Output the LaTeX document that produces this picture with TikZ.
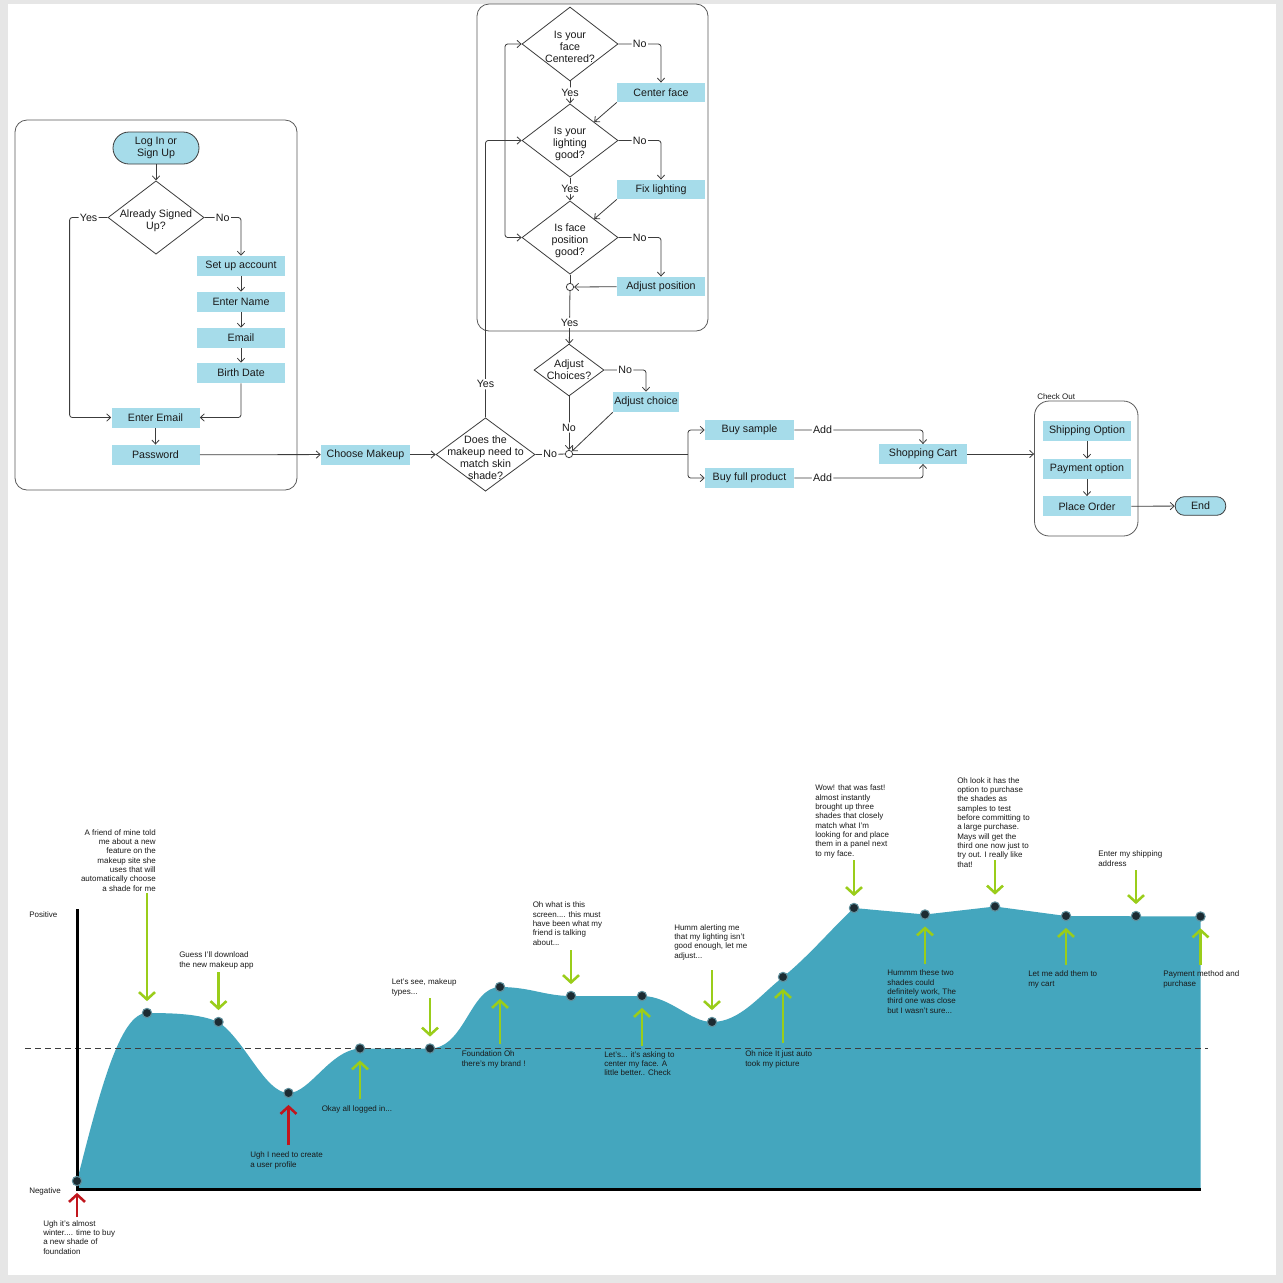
\documentclass[tikz,border=0pt]{standalone}
\usepackage{fontspec}
\setmainfont{Liberation Sans}
\usepackage{xcolor}
\usepackage{tikz}
\usetikzlibrary{shapes.geometric, arrows.meta, positioning}

\definecolor{boxblue}{HTML}{A6DCEA}
\definecolor{lineg}{HTML}{3C3C3C}
\definecolor{panelg}{HTML}{5A5A5A}
\definecolor{areateal}{HTML}{44A6BE}
\definecolor{goodgreen}{HTML}{9ACD1A}
\definecolor{badred}{HTML}{C1161D}
\definecolor{dotdark}{HTML}{1C2B32}
\definecolor{dothalo}{HTML}{5F8F9C}
\definecolor{pagegray}{HTML}{E6E6E6}
\definecolor{txt}{HTML}{1A1A1A}

\begin{document}
\begin{tikzpicture}[x=0.75pt, y=-0.75pt, node distance=27pt, on grid,
    font=\fontsize{8}{9}\selectfont, text=txt,
    >={Straight Barb[length=3pt,width=5.5pt]},
    flow/.style={draw=lineg, line width=0.6pt, rounded corners=2pt},
    box/.style={fill=boxblue, minimum width=66pt, minimum height=15pt, inner sep=0pt, align=center},
    term/.style={box, draw=lineg, line width=0.6pt, rounded corners=12pt, minimum width=64.5pt, minimum height=24pt},
    decision/.style={diamond, draw=lineg, line width=0.6pt, inner sep=0pt, minimum width=72pt, minimum height=55pt},
    dtext/.style={align=center, inner sep=0pt, yshift=-2.5pt},
    panel/.style={draw=panelg, line width=0.6pt, rounded corners=9pt, inner sep=0pt},
    lbl/.style={fill=white, inner sep=1pt},
    hub/.style={circle, draw=lineg, fill=white, line width=0.6pt, minimum size=5.5pt, inner sep=0pt},
    note/.style={font=\fontsize{6}{7}\selectfont, align=left, anchor=base west, inner sep=0pt},
    dot/.style={circle, fill=dotdark, draw=dothalo, line width=0.8pt, minimum size=7pt, inner sep=0pt},
    good/.style={draw=goodgreen, line width=1.9pt, -{Straight Barb[length=5.5pt,width=12pt]}, shorten >=5pt},
    bad/.style={good, draw=badred},
  ]
  % page
  \fill[pagegray] (0,0) rectangle (1283,1283);
  \fill[white] (8,4) rectangle (1276,1275);

  % panels
  \node[panel, minimum width=211.5pt, minimum height=277.5pt] (loginpanel) at (156,305) {};
  \node[panel, minimum width=173.25pt, minimum height=245.25pt] (camerapanel) at (592.5,167.5) {};
  \node[panel, rounded corners=11pt, minimum width=77.6pt, minimum height=101.25pt] (checkout) at (1086.25,468.5) {};
  \node[note] (checkoutlbl) at (1037,399) {Check Out};

  % sign in
  \node[term] (login) at (156,148) {Log In or\\Sign Up};
  \node[decision, label={[dtext]center:{Already Signed\\Up?}}] (signed) at (156,217.5) {};
  \node[box] (setup) at (241,266) {Set up account};
  \node[box, below=27pt of setup] (name) {Enter Name};
  \node[box, below=27pt of name] (email) {Email};
  \node[box, below=26.25pt of email] (birth) {Birth Date};
  \node[box] (enteremail) at (155.5,417.5) {Enter Email};
  \node[box, below=28pt of enteremail] (password) {Password};

  % choose makeup
  \node[box, minimum width=66.75pt] (choose) at (365.5,454.5) {Choose Makeup};
  \node[decision, minimum width=74.25pt, label={[dtext]center:{Does the\\makeup need to\\match skin\\shade?}}] (match) at (485.5,454.5) {};
  \node[hub] (hubbuy) at (569,454) {};
  \coordinate (split) at (688,454);

  % camera checks
  \node[decision, minimum height=55.5pt, label={[dtext]center:{Is your\\face\\Centered?}}] (face) at (570,44) {};
  \node[decision, label={[dtext]center:{Is your\\lighting\\good?}}] (light) at (570,140.5) {};
  \node[decision, label={[dtext]center:{Is face\\position\\good?}}] (pose) at (570,237.5) {};
  \node[box, minimum height=14.5pt] (centerface) at (661,92.5) {Center face};
  \node[box, minimum height=14.5pt] (fixlight) at (661,189.5) {Fix lighting};
  \node[box, minimum height=14.5pt] (adjpose) at (661,286.5) {Adjust position};
  \node[hub] (hubface) at (570,287) {};
  \coordinate (loopx) at (505,140.5);

  \node[decision, minimum width=52.5pt, minimum height=39pt, label={[align=center, inner sep=0pt]center:{Adjust\\Choices?}}] (choices) at (569,370) {};
  \node[box, minimum width=49.5pt] (adjchoice) at (646,402) {Adjust choice};

  % purchase
  \node[box, minimum width=66.75pt, minimum height=14.5pt] (sample) at (749.5,430) {Buy sample};
  \node[box, minimum width=66.75pt, minimum height=14.5pt] (full) at (749.5,478) {Buy full product};
  \node[box, minimum height=14.5pt] (cart) at (923,454) {Shopping Cart};
  \node[box] (ship) at (1087,431) {Shipping Option};
  \node[box, below=28.5pt of ship] (pay) {Payment option};
  \node[box, below=28pt of pay] (order) {Place Order};
  \node[term, minimum width=38pt, minimum height=14pt, rounded corners=7pt] (end) at (1200.5,506) {End};

  % connectors
  \draw[flow,->] (login) -- (signed);
  \draw[flow,->] (signed.west) -- node[lbl]{Yes} ++(-38,0) |- (enteremail);
  \draw[flow,->] (signed.east) -| node[lbl,pos=0.25]{No} (setup);
  \draw[flow,->] (setup) -- (name);
  \draw[flow,->] (name) -- (email);
  \draw[flow,->] (email) -- (birth);
  \draw[flow,->] (birth) |- (enteremail);
  \draw[flow,->] (enteremail) -- (password);
  \draw[flow,->] (password) -- (choose);
  \draw[flow,->] (choose) -- (match);
  \draw[flow,->] (match.north) |- node[lbl,pos=0.06]{Yes} (light.west);
  \draw[flow,->] (loopx) |- (face.west);
  \draw[flow,->] (loopx) |- (pose.west);
  \draw[flow,->] (face) -- node[lbl]{Yes} (light);
  \draw[flow,->] (light) -- node[lbl]{Yes} (pose);
  \draw[flow,->] (face.east) -| node[lbl,pos=0.25]{No} (centerface);
  \draw[flow,->] (light.east) -| node[lbl,pos=0.25]{No} (fixlight);
  \draw[flow,->] (pose.east) -| node[lbl,pos=0.25]{No} (adjpose);
  \draw[flow,->] (centerface.south west) -- (light.north east);
  \draw[flow,->] (fixlight.south west) -- (pose.north east);
  \draw[flow,->] (adjpose) -- (hubface);
  \draw[flow] (pose) -- (hubface);
  \draw[flow,->] (hubface) -- node[lbl,pos=0.6]{Yes} (choices);
  \draw[flow,->] (choices.east) -| node[lbl,pos=0.25]{No} (adjchoice);
  \draw[flow,->] (choices) -- node[lbl,pos=0.58]{No} (hubbuy);
  \draw[flow,->] (adjchoice.south west) -- (hubbuy);
  \draw[flow] (match.east) -- node[lbl]{No} (hubbuy);
  \draw[flow] (hubbuy) -- (split);
  \draw[flow,->] (split) |- (sample);
  \draw[flow,->] (split) |- (full);
  \draw[flow,->] (sample.east) -| node[lbl,pos=0.11]{Add} (cart.north);
  \draw[flow,->] (full.east) -| node[lbl,pos=0.11]{Add} (cart.south);
  \draw[flow,->] (cart) -- (cart -| checkout.west);
  \draw[flow,->] (ship) -- (pay);
  \draw[flow,->] (pay) -- (order);
  \draw[flow,->] (order) -- (end);

  % journey chart
  \fill[areateal] (77,1189) -- (77,1181)
    .. controls (100,1090) and (120,1013) .. (147,1013)
    .. controls (175,1013) and (200,1014) .. (218.5,1022)
    .. controls (245,1040) and (265,1093) .. (288.5,1093)
    .. controls (310,1093) and (330,1050) .. (360,1048.5)
    -- (430,1048.5)
    .. controls (465,1048) and (470,987) .. (500,987)
    .. controls (530,987) and (545,996) .. (571,996)
    -- (642,996)
    .. controls (670,996) and (690,1022) .. (712,1022)
    .. controls (740,1022) and (760,995) .. (783,977)
    .. controls (810,955) and (835,925) .. (854,908)
    -- (925,914.5) -- (995,906.5) -- (1066,916) -- (1200.5,916.5)
    -- (1200.5,1189) -- cycle;
  \draw[lineg, line width=0.75pt, dash pattern=on 4.5pt off 3pt] (25,1048.5) -- (1208,1048.5);
  \draw[black, line width=2.25pt] (77,909) -- (77,1189) -- (1200.5,1189);
  \node[note] (positive) at (29,917) {Positive};
  \node[note] (negative) at (29,1193) {Negative};

  \foreach \n/\x/\y in {0/77/1181, 1/147/1013, 2/218.5/1022, 3/288.5/1093, 4/360/1048.5,
      5/430/1048.5, 6/500/987, 7/571/996, 8/642/996, 9/712/1022, 10/783/977,
      11/854/908, 12/925/914.5, 13/995/906.5, 14/1066/916, 15/1136/916, 16/1200.5/916.5}
    \node[dot] (p\n) at (\x,\y) {};

  \foreach \n/\t/\s in {0/1217/bad, 1/893/good, 2/972/good, 3/1145/bad, 4/1099/good,
      5/998/good, 6/1044/good, 7/950/good, 8/1046/good, 9/970/good, 10/1043/good,
      11/860/good, 12/964/good, 13/860/good, 14/965/good, 15/870/good, 16/965/good} {
    \coordinate (t\n) at (p\n |- 0,\t);
    \draw[\s] (t\n) -- (p\n);
  }

  % notes (anchored at the baseline of their last line)
  \node[note] (n0) at (43,1254) {Ugh it's almost\\winter.... time to buy\\a new shade of\\foundation};
  \node[note, align=right, anchor=base east] (n1) at (156,891) {A friend of mine told\\me about a new\\feature on the\\makeup site she\\uses that will\\automatically choose\\a shade for me};
  \node[note] (n2) at (179,967.3) {Guess I'll download\\the new makeup app};
  \node[note] (n3) at (250,1167.3) {Ugh I need to create\\a user profile};
  \node[note] (n4) at (321.5,1111) {Okay all logged in...};
  \node[note] (n5) at (391.5,994.3) {Let's see, makeup\\types...};
  \node[note] (n6) at (461.5,1066.3) {Foundation Oh\\there's my brand !};
  \node[note] (n7) at (532.5,945.3) {Oh what is this\\screen.... this must\\have been what my\\friend is talking\\about...};
  \node[note] (n8) at (604,1075.7) {Let's... it's asking to\\center my face. A\\little better.. Check};
  \node[note] (n9) at (674,958) {Humm alerting me\\that my lighting isn't\\good enough, let me\\adjust...};
  \node[note] (n10) at (745,1066.3) {Oh nice It just auto\\took my picture};
  \node[note] (n11) at (815,856.3) {Wow! that was fast!\\almost instantly\\brought up three\\shades that closely\\match what I'm\\looking for and place\\them in a panel next\\to my face.};
  \node[note] (n12) at (887,1013.3) {Hummm these two\\shades could\\definitely work, The\\third one was close\\but I wasn't sure...};
  \node[note] (n13) at (957,867) {Oh look it has the\\option to purchase\\the shades as\\samples to test\\before committing to\\a large purchase.\\Mays will get the\\third one now just to\\try out. I really like\\that!};
  \node[note] (n14) at (1028,986.3) {Let me add them to\\my cart};
  \node[note] (n15) at (1098,866.3) {Enter my shipping\\address};
  \node[note] (n16) at (1163,986.3) {Payment method and\\purchase};
\end{tikzpicture}
\end{document}
